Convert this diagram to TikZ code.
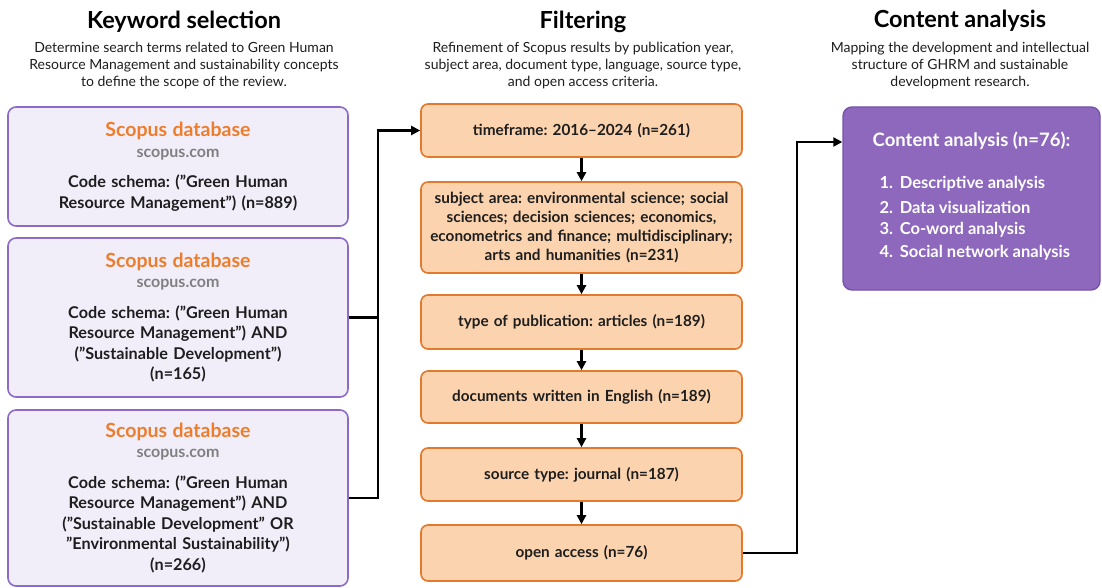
\documentclass[tikz,border=0pt]{standalone}
\usepackage{fontspec}
\setmainfont{Lato}
\usetikzlibrary{arrows.meta}
\definecolor{kborder}{HTML}{8C6BC8}
\definecolor{kfill}{HTML}{F1EEFA}
\definecolor{scoor}{HTML}{EE7D2B}
\definecolor{scogrey}{HTML}{808080}
\definecolor{fborder}{HTML}{E2792C}
\definecolor{ffill}{HTML}{FBD3AE}
\definecolor{cfill}{HTML}{8D68BD}
\definecolor{cborder}{HTML}{7553AA}
\definecolor{txt}{HTML}{1E1E1E}
\frenchspacing
\tikzset{
  kbox/.style={draw=kborder, fill=kfill, line width=1.6pt, rounded corners=8pt,
    minimum width=340pt, text width=325pt, align=center, inner sep=0pt, text=txt,
    font=\fontsize{16.2}{20.5}\selectfont\bfseries},
  fbox/.style={draw=fborder, fill=ffill, line width=1.6pt, rounded corners=7pt,
    minimum width=321pt, text width=318pt, align=center, inner sep=0pt, text=txt,
    font=\fontsize{15.3}{18.8}\selectfont\bfseries},
  cbox/.style={draw=cborder, fill=cfill, line width=1.4pt, rounded corners=9pt,
    minimum width=257pt, minimum height=183pt, inner sep=0pt},
  heading/.style={font=\fontsize{23.5}{28}\selectfont\bfseries, text=black},
  subhead/.style={font=\fontsize{14}{17}\selectfont, align=center, text=txt},
  conn/.style={line width=2.2pt, draw=black},
  arr/.style={conn, -{Triangle[length=9pt,width=9pt]}},
  ctext/.style={text=white, font=\fontsize{16.5}{20}\selectfont\bfseries, anchor=west},
}
\newcommand{\scohead}{{\color{scoor}\fontsize{19.5}{22}\selectfont\bfseries Scopus database}\\[0pt]{\color{scogrey}\fontsize{16}{19}\selectfont\bfseries scopus.com}\\[10pt]}
\begin{document}
\begin{tikzpicture}[x=1pt,y=-1pt]
\useasboundingbox[fill=white] (0,0) rectangle (1102,588);

% headings
\node[heading] (h1) at (184,21.5) {Keyword selection};
\node[heading] (h2) at (583,21.5) {Filtering};
\node[heading] (h3) at (960,20.5) {Content analysis};
\node[subhead] (s1) at (184,66) {Determine search terms related to Green Human\\Resource Management and sustainability concepts\\to define the scope of the review.};
\node[subhead] (s2) at (583,66) {Refinement of Scopus results by publication year,\\subject area, document type, language, source type,\\and open access criteria.};
\node[subhead] (s3) at (960,66) {Mapping the development and intellectual\\structure of GHRM and sustainable\\development research.};

% keyword boxes
\node[kbox, minimum height=119pt] (k1) at (178,166.5)
  {\scohead Code schema: ("Green Human\\Resource Management") (n=889)};
\node[kbox, minimum height=159pt] (k2) at (178,317.5)
  {\scohead Code schema: ("Green Human\\Resource Management") AND\\("Sustainable Development")\\(n=165)};
\node[kbox, minimum height=176pt] (k3) at (178,498)
  {\scohead Code schema: ("Green Human\\Resource Management") AND\\("Sustainable Development" OR\\"Environmental Sustainability")\\(n=266)};

% filtering boxes
\node[fbox, minimum height=53pt] (f1) at (581.5,130.5) {timeframe: 2016--2024 (n=261)};
\node[fbox, minimum height=91pt] (f2) at (581.5,227.5) {subject area: environmental science; social\\sciences; decision sciences; economics,\\econometrics and finance; multidisciplinary;\\arts and humanities (n=231)};
\node[fbox, minimum height=54pt] (f3) at (581.5,322) {type of publication: articles (n=189)};
\node[fbox, minimum height=52pt] (f4) at (581.5,397) {documents written in English (n=189)};
\node[fbox, minimum height=53pt] (f5) at (581.5,474.5) {source type: journal (n=187)};
\node[fbox, minimum height=56pt] (f6) at (581.5,553) {open access (n=76)};

% content box
\node[cbox] (c) at (971.5,198.5) {};
\node[text=white, font=\fontsize{18.5}{22}\selectfont\bfseries] (ct) at (971.5,141) {Content analysis (n=76):};
\node[ctext] (l1) at (876,184) {1.\ \,Descriptive analysis};
\node[ctext] (l2) at (876,207) {2.\ \,Data visualization};
\node[ctext] (l3) at (876,230) {3.\ \,Co-word analysis};
\node[ctext] (l4) at (876,253) {4.\ \,Social network analysis};

% connectors
\coordinate (bus) at (378,130.5);
\draw[conn] (k2.east) -- (k2.east -| bus);
\draw[arr] (k3.east) -| (bus) -- (f1.west);
\draw[arr] (f1.south) -- (f2.north);
\draw[arr] (f2.south) -- (f3.north);
\draw[arr] (f3.south) -- (f4.north);
\draw[arr] (f4.south) -- (f5.north);
\draw[arr] (f5.south) -- (f6.north);
\coordinate (bend) at (797,142);
\draw[arr] (f6.east) -| (bend) -- (c.west |- bend);
\end{tikzpicture}
\end{document}
